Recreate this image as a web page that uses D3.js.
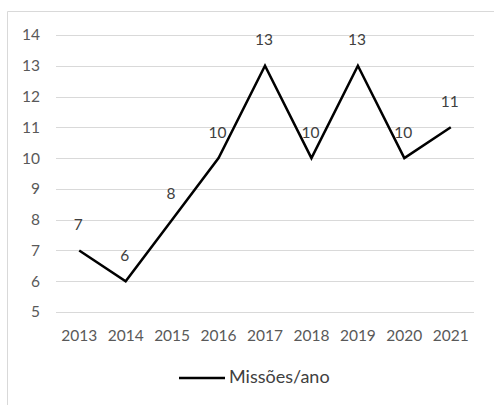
<!DOCTYPE html>
<html>
<head>
<meta charset="utf-8">
<script src="https://cdn.jsdelivr.net/npm/d3@7"></script>
<style>
  html, body { margin: 0; padding: 0; background: #fff; }
  svg { display: block; font-family: Lato, "Open Sans", sans-serif; }
</style>
</head>
<body>
<svg id="chart" width="494" height="405"></svg>
<script>
// Missões por ano
const years = ["2013", "2014", "2015", "2016", "2017", "2018", "2019", "2020", "2021"];
const missions = [7, 6, 8, 10, 13, 10, 13, 10, 11];
const yTicks = [5, 6, 7, 8, 9, 10, 11, 12, 13, 14];
const seriesName = "Missões/ano";

const svg = d3.select("#chart");
const W = 494, H = 405;
const labelFont = 15.5;

// chart frame
svg.append("path")
  .attr("d", `M7.5,${H} L7.5,11.5 L${W},11.5`)
  .attr("fill", "none")
  .attr("stroke", "#d9d9d9")
  .attr("stroke-width", 1);

const x = d3.scaleBand().domain(years).range([56, 474]);
const y = d3.scaleLinear().domain([5, 14]).range([312, 35]);

// gridlines
svg.append("g")
  .selectAll("line")
  .data(yTicks)
  .join("line")
  .attr("x1", 56).attr("x2", 474)
  .attr("y1", d => Math.round(y(d)) + 0.5)
  .attr("y2", d => Math.round(y(d)) + 0.5)
  .attr("stroke", "#d9d9d9")
  .attr("stroke-width", 1);

// y axis labels
const yAxis = d3.axisLeft(y).tickValues(yTicks).tickSize(0).tickPadding(0);
const gy = svg.append("g").attr("transform", "translate(40,0)").call(yAxis);
gy.select(".domain").remove();
gy.selectAll("text")
  .attr("fill", "#595959")
  .attr("font-size", labelFont)
  .attr("font-family", "Lato, 'Open Sans', sans-serif");

// x axis labels
const xAxis = d3.axisBottom(x).tickSize(0).tickPadding(0);
const gx = svg.append("g").attr("transform", "translate(0,330)").call(xAxis);
gx.select(".domain").remove();
gx.selectAll("text")
  .attr("fill", "#595959")
  .attr("font-size", labelFont)
  .attr("font-family", "Lato, 'Open Sans', sans-serif");

// series line
const line = d3.line()
  .x((d, i) => x(years[i]) + x.bandwidth() / 2)
  .y(d => y(d));

svg.append("path")
  .datum(missions)
  .attr("d", line)
  .attr("fill", "none")
  .attr("stroke", "#000")
  .attr("stroke-width", 2.5)
  .attr("stroke-linejoin", "miter");

// value labels
svg.append("g")
  .selectAll("text")
  .data(missions)
  .join("text")
  .attr("x", (d, i) => x(years[i]) + x.bandwidth() / 2 - 1)
  .attr("y", d => y(d) - 26)
  .attr("dy", "0.35em")
  .attr("text-anchor", "middle")
  .attr("fill", "#404040")
  .attr("font-size", labelFont)
  .text(d => d);

// legend
const lg = svg.append("g");
lg.append("line")
  .attr("x1", 179).attr("x2", 225)
  .attr("y1", 378).attr("y2", 378)
  .attr("stroke", "#000")
  .attr("stroke-width", 2.5);
lg.append("text")
  .attr("x", 229)
  .attr("y", 377)
  .attr("dy", "0.36em")
  .attr("fill", "#404040")
  .attr("font-size", 18)
  .text(seriesName);
</script>
</body>
</html>
